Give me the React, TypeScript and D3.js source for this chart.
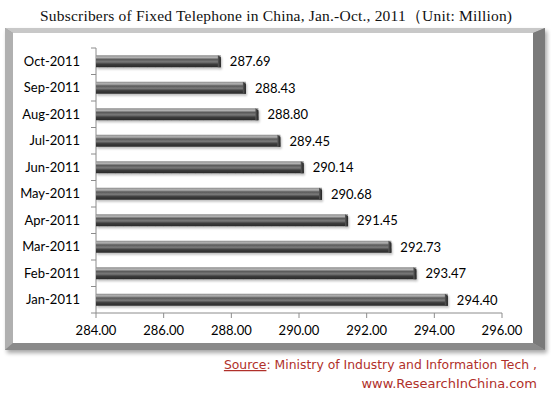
import React from 'react';
import * as d3 from 'd3';

const months = ['Jan-2011', 'Feb-2011', 'Mar-2011', 'Apr-2011', 'May-2011', 'Jun-2011', 'Jul-2011', 'Aug-2011', 'Sep-2011', 'Oct-2011'];
const subscribers = [294.40, 293.47, 292.73, 291.45, 290.68, 290.14, 289.45, 288.80, 288.43, 287.69];
const xTicks = [284, 286, 288, 290, 292, 294, 296];

const W = 551;
const H = 394;
const margin = { top: 48, right: 49, bottom: 81, left: 96 };

const App = () => {
  const innerW = W - margin.left - margin.right;
  const innerH = H - margin.top - margin.bottom;

  const x = d3.scaleLinear().domain([284, 296]).range([0, innerW]);
  // Oct on top, Jan at the bottom
  const y = d3.scaleBand().domain([...months].reverse()).range([0, innerH])
    .paddingInner(0.55).paddingOuter(0.275);
  const step = y.step();
  const barH = 12;

  const labelFont = 'Lato, "Open Sans", sans-serif';

  return (
    <svg width={W} height={H} style={{ position: 'absolute', left: 0, top: 0, background: '#fff' }}>
      <defs>
        <linearGradient id="barGrad" x1="0" y1="0" x2="0" y2="1">
          <stop offset="0%" stopColor="#8c8c8c" />
          <stop offset="18%" stopColor="#b4b4b4" />
          <stop offset="35%" stopColor="#5a5a5a" />
          <stop offset="55%" stopColor="#7a7a7a" />
          <stop offset="75%" stopColor="#3c3c3c" />
          <stop offset="100%" stopColor="#2a2a2a" />
        </linearGradient>
        <linearGradient id="capGrad" x1="0" y1="0" x2="1" y2="0">
          <stop offset="0%" stopColor="#5a5a5a" />
          <stop offset="100%" stopColor="#222" />
        </linearGradient>
        <filter id="frameShadow" x="-5%" y="-5%" width="110%" height="115%">
          <feGaussianBlur in="SourceAlpha" stdDeviation="2" />
          <feOffset dx="2" dy="3" result="b" />
          <feComponentTransfer><feFuncA type="linear" slope="0.35" /></feComponentTransfer>
          <feMerge><feMergeNode /><feMergeNode in="SourceGraphic" /></feMerge>
        </filter>
        <filter id="barShadow" x="-5%" y="-50%" width="110%" height="220%">
          <feGaussianBlur in="SourceAlpha" stdDeviation="1.2" />
          <feOffset dx="1" dy="2" result="b" />
          <feComponentTransfer><feFuncA type="linear" slope="0.25" /></feComponentTransfer>
          <feMerge><feMergeNode /><feMergeNode in="SourceGraphic" /></feMerge>
        </filter>
      </defs>

      <text x={276} y={21} textAnchor="middle" fontFamily='"Liberation Serif", "DejaVu Serif", serif' fontSize={15.5} fill="#111"
        textLength={472} lengthAdjust="spacing">
        Subscribers of Fixed Telephone in China, Jan.-Oct., 2011（Unit: Million)
      </text>

      {/* bevelled frame */}
      <g filter="url(#frameShadow)">
        <rect x={5} y={28} width={540} height={322} fill="#9a9a9a" />
        <polygon points="5,28 545,28 533,33 13,33" fill="#c8c8c8" />
        <polygon points="5,28 13,33 13,343 5,350" fill="#b0b0b0" />
        <polygon points="545,28 545,350 533,343 533,33" fill="#7a7a7a" />
        <polygon points="5,350 545,350 533,343 13,343" fill="#8a8a8a" />
        <rect x={13} y={33} width={520} height={310} fill="#fff" />
      </g>

      <g transform={`translate(${margin.left},${margin.top})`}>
        {/* y axis */}
        <line x1={0} x2={0} y1={0} y2={innerH} stroke="#8c8c8c" />
        {d3.range(months.length + 1).map(i => (
          <line key={i} x1={-5} x2={0} y1={i * step} y2={i * step} stroke="#8c8c8c" />
        ))}
        {/* x axis */}
        <line x1={0} x2={innerW} y1={innerH} y2={innerH} stroke="#8c8c8c" />
        {xTicks.map(t => (
          <g key={t}>
            <line x1={x(t)} x2={x(t)} y1={innerH} y2={innerH + 5} stroke="#8c8c8c" />
            <text x={x(t)} y={innerH + 22} textAnchor="middle" fontFamily={labelFont} fontSize={13} fill="#000">
              {t.toFixed(2)}
            </text>
          </g>
        ))}

        {months.map((m, i) => {
          const cy = (y(m) as number) + y.bandwidth() / 2;
          const w = x(subscribers[i]);
          return (
            <g key={m}>
              <text x={-16} y={cy + 4.5} textAnchor="end" fontFamily={labelFont} fontSize={13} fill="#000">{m}</text>
              <g filter="url(#barShadow)">
                <rect x={0} y={cy - barH / 2} width={w} height={barH} fill="url(#barGrad)" />
                <polygon
                  points={`${w - 3},${cy - barH / 2} ${w},${cy - barH / 2 + 2} ${w},${cy + barH / 2} ${w - 3},${cy + barH / 2}`}
                  fill="url(#capGrad)"
                />
              </g>
              <text x={w + 9} y={cy + 5} fontFamily={labelFont} fontSize={13} fill="#000">{subscribers[i].toFixed(2)}</text>
            </g>
          );
        })}
      </g>

      <g fontFamily='"DejaVu Sans", sans-serif' fill="#b0302a" textAnchor="end">
        <text x={537} y={369} fontSize={12.4}>
          <tspan textDecoration="underline">Source</tspan>
          <tspan>:  Ministry of Industry and Information Tech ,</tspan>
        </text>
        <text x={537} y={388} fontSize={13}>www.ResearchInChina.com</text>
      </g>
    </svg>
  );
};

export default App;
